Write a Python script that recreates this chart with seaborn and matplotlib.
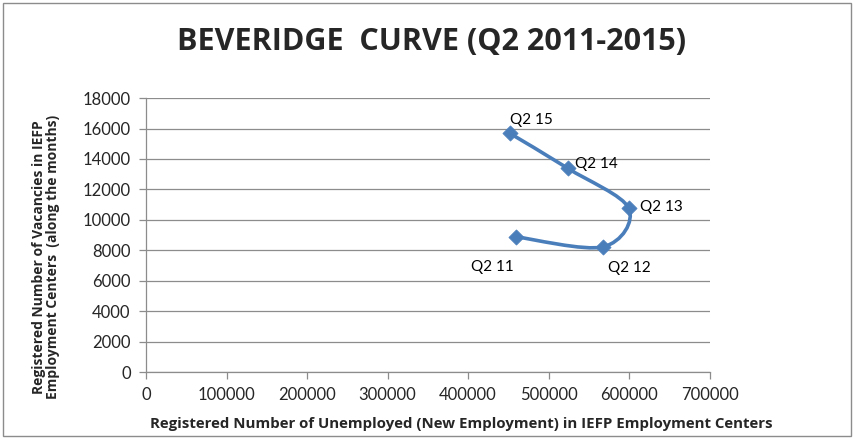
import numpy as np
import matplotlib
matplotlib.use('Agg')
import matplotlib.pyplot as plt
from matplotlib.path import Path
from matplotlib.patches import PathPatch, Rectangle
import seaborn as sns

# data
quarters = ['Q2 11', 'Q2 12', 'Q2 13', 'Q2 14', 'Q2 15']
unemployed = [459000, 568000, 599500, 524000, 452000]
vacancies = [8890, 8230, 10760, 13380, 15680]

x_ticks = [0, 100000, 200000, 300000, 400000, 500000, 600000, 700000]
y_ticks = [0, 2000, 4000, 6000, 8000, 10000, 12000, 14000, 16000, 18000]

blue = '#4a7ebb'
bold_font = ['Open Sans', 'DejaVu Sans']

sns.set_theme(style='white')
plt.rcParams['font.family'] = ['Lato', 'DejaVu Sans']


def smooth_path(xs, ys):
    # Excel-like smoothed line: cubic bezier segments with Catmull-Rom control points
    pts = np.column_stack([xs, ys]).astype(float)
    n = len(pts)
    verts = [pts[0]]
    codes = [Path.MOVETO]
    for i in range(n - 1):
        p0 = pts[i - 1] if i > 0 else pts[i]
        p1 = pts[i]
        p2 = pts[i + 1]
        p3 = pts[i + 2] if i + 2 < n else pts[i + 1]
        c1 = p1 + (p2 - p0) / 6.0
        c2 = p2 - (p3 - p1) / 6.0
        verts += [c1, c2, p2]
        codes += [Path.CURVE4] * 3
    return Path(verts, codes)


fig = plt.figure(figsize=(8.54, 4.4), dpi=100)
ax = fig.add_axes([0.171, 0.1545, 0.66, 0.6225])

ax.add_patch(PathPatch(smooth_path(unemployed, vacancies), facecolor='none',
                       edgecolor=blue, lw=2.6, zorder=3))
sns.scatterplot(x=unemployed, y=vacancies, marker='D', s=60, color=blue,
                edgecolor=blue, linewidth=0.5, ax=ax, zorder=4)

offsets = {'Q2 11': (-32, -22), 'Q2 12': (3, -15), 'Q2 13': (8, 1),
           'Q2 14': (5, 3), 'Q2 15': (0, 10)}
for q, xv, yv in zip(quarters, unemployed, vacancies):
    ax.annotate(q, (xv, yv), xytext=offsets[q], textcoords='offset points',
                fontsize=11, va='center', ha='left', color='black')

ax.set_xlim(0, 700000)
ax.set_ylim(0, 18000)
ax.set_xticks(x_ticks)
ax.set_yticks(y_ticks)
ax.set_xticklabels([str(v) for v in x_ticks], fontsize=12)
ax.set_yticklabels([str(v) for v in y_ticks], fontsize=12)
ax.yaxis.grid(True, color='#8c8c8c', lw=0.9)
ax.xaxis.grid(False)
sns.despine(ax=ax, top=True, right=True)
for side in ['left', 'bottom']:
    ax.spines[side].set_color('#8c8c8c')
    ax.spines[side].set_linewidth(0.9)
ax.tick_params(axis='both', which='major', length=5, width=0.9, color='#8c8c8c',
               direction='out', left=True, bottom=True, pad=6)

ax.set_xlabel('Registered Number of Unemployed (New Employment) in IEFP Employment Centers',
              fontsize=10.8, fontweight='bold', family=bold_font)
ax.xaxis.set_label_coords(0.56, -0.165)
ax.set_ylabel('Registered Number of Vacancies in IEFP\nEmployment Centers  (along the months)',
              fontsize=10, fontweight='bold', family=bold_font, linespacing=1.0)
ax.yaxis.set_label_coords(-0.152, 0.42)

fig.text(0.505, 0.905, 'BEVERIDGE  CURVE (Q2 2011-2015)', ha='center', va='center',
         fontsize=22, fontweight='bold', family=bold_font)

fig.patches.append(Rectangle((0.003, 0.008), 0.994, 0.986, transform=fig.transFigure,
                             fill=False, edgecolor='#8c8c8c', lw=1))

fig.savefig('out.png', dpi=100)
